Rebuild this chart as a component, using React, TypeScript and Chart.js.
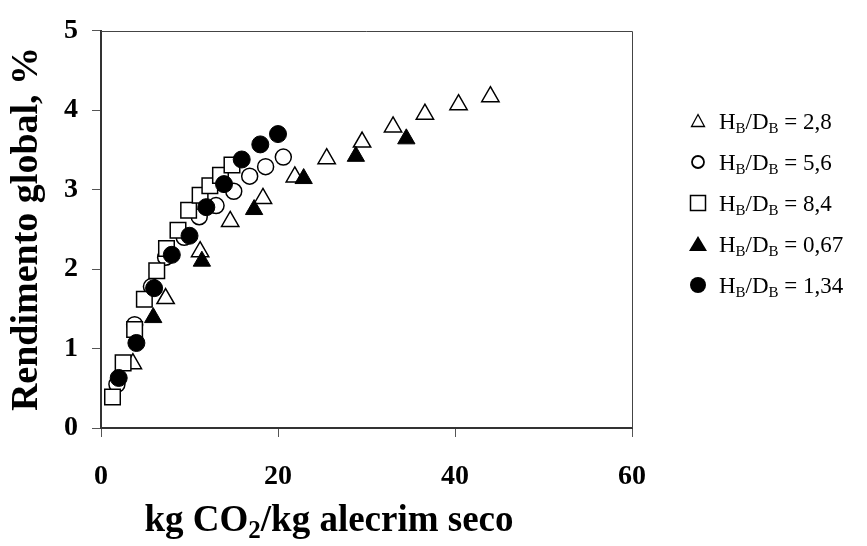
import React, { useEffect, useRef } from 'react';
import { Chart, registerables } from 'chart.js';

Chart.register(...registerables);

// ---- data ----
const X_TICKS = [0, 20, 40, 60];
const Y_TICKS = [0, 1, 2, 3, 4, 5];
const SERIES_LABELS = ['2,8', '5,6', '8,4', '0,67', '1,34'];

// H_B/D_B = 2,8 (open triangle)
const S28_X = [3.6, 7.3, 11.2, 14.6, 18.3, 21.9, 25.5, 29.5, 33.0, 36.6, 40.4, 44.0];
const S28_Y = [0.81, 1.63, 2.22, 2.6, 2.89, 3.16, 3.39, 3.6, 3.79, 3.95, 4.07, 4.17];
// H_B/D_B = 5,6 (open circle)
const S56_X = [1.8, 3.8, 5.7, 7.3, 9.4, 11.1, 13.0, 15.0, 16.8, 18.6, 20.6];
const S56_Y = [0.55, 1.3, 1.78, 2.15, 2.4, 2.66, 2.8, 2.98, 3.17, 3.29, 3.41];
// H_B/D_B = 8,4 (open square)
const S84_X = [1.3, 2.5, 3.8, 4.9, 6.3, 7.4, 8.7, 9.9, 11.2, 12.3, 13.5, 14.8];
const S84_Y = [0.39, 0.82, 1.24, 1.62, 1.98, 2.26, 2.49, 2.74, 2.93, 3.05, 3.18, 3.31];
// H_B/D_B = 0,67 (filled triangle)
const S067_X = [5.9, 11.4, 17.3, 22.9, 28.8, 34.5];
const S067_Y = [1.39, 2.1, 2.75, 3.14, 3.42, 3.64];
// H_B/D_B = 1,34 (filled circle)
const S134_X = [2.0, 4.0, 6.0, 8.0, 10.0, 11.9, 13.9, 15.9, 18.0, 20.0];
const S134_Y = [0.63, 1.07, 1.76, 2.18, 2.42, 2.78, 3.07, 3.38, 3.57, 3.7];

const FONT = '"Liberation Serif", "Times New Roman", serif';

const pts = (xs: number[], ys: number[]) => xs.map((x, i) => ({ x, y: ys[i] }));

type Run = { t: string; s: number; dy?: number };

function drawRuns(ctx: CanvasRenderingContext2D, runs: Run[], x: number, y: number, bold: boolean, align: 'left' | 'center') {
  const w = runs.map(r => {
    ctx.font = `${bold ? 'bold ' : ''}${r.s}px ${FONT}`;
    return ctx.measureText(r.t).width;
  });
  const total = w.reduce((a, b) => a + b, 0);
  let cx = align === 'center' ? x - total / 2 : x;
  ctx.textAlign = 'left';
  ctx.textBaseline = 'alphabetic';
  runs.forEach((r, i) => {
    ctx.font = `${bold ? 'bold ' : ''}${r.s}px ${FONT}`;
    ctx.fillText(r.t, cx, y + (r.dy || 0));
    cx += w[i];
  });
}

function drawMarker(ctx: CanvasRenderingContext2D, kind: string, x: number, y: number) {
  ctx.save();
  ctx.strokeStyle = '#000';
  ctx.fillStyle = '#000';
  ctx.lineWidth = 1.3;
  ctx.beginPath();
  if (kind === 'otri') {
    ctx.moveTo(x, y - 6.5); ctx.lineTo(x + 6.5, y + 5.5); ctx.lineTo(x - 6.5, y + 5.5); ctx.closePath();
    ctx.stroke();
  } else if (kind === 'ocirc') {
    ctx.arc(x, y, 6, 0, Math.PI * 2); ctx.lineWidth = 1.8; ctx.stroke();
  } else if (kind === 'osq') {
    ctx.rect(x - 7.5, y - 7.5, 15, 15); ctx.lineWidth = 1.5; ctx.stroke();
  } else if (kind === 'ftri') {
    ctx.moveTo(x, y - 8); ctx.lineTo(x + 9, y + 7); ctx.lineTo(x - 9, y + 7); ctx.closePath();
    ctx.fill();
  } else {
    ctx.arc(x, y, 8, 0, Math.PI * 2); ctx.fill();
  }
  ctx.restore();
}

const MARKER_KINDS = ['otri', 'ocirc', 'osq', 'ftri', 'fcirc'];

const decor = {
  id: 'decor',
  beforeDatasetsDraw(chart: any) {
    const { ctx, chartArea: a } = chart;
    ctx.save();
    ctx.strokeStyle = '#444';
    ctx.lineWidth = 1;
    ctx.beginPath();
    ctx.moveTo(a.left, Math.round(a.top) + 0.5);
    ctx.lineTo(Math.round(a.right) + 0.5, Math.round(a.top) + 0.5);
    ctx.lineTo(Math.round(a.right) + 0.5, a.bottom);
    ctx.stroke();
    ctx.restore();
  },
  afterDraw(chart: any) {
    const { ctx } = chart;
    ctx.save();
    ctx.fillStyle = '#000';
    // x title
    drawRuns(ctx, [
      { t: 'kg CO', s: 37 },
      { t: '2', s: 25, dy: 7 },
      { t: '/kg alecrim seco', s: 37 },
    ], 329, 531, true, 'center');
    // y title
    ctx.save();
    ctx.translate(37, 229);
    ctx.rotate(-Math.PI / 2);
    drawRuns(ctx, [{ t: 'Rendimento global, %', s: 38 }], 0, 0, true, 'center');
    ctx.restore();
    // legend
    SERIES_LABELS.forEach((lab, i) => {
      const cy = 121 + 41 * i;
      drawMarker(ctx, MARKER_KINDS[i], 698, cy);
      ctx.fillStyle = '#000';
      drawRuns(ctx, [
        { t: 'H', s: 23 },
        { t: 'B', s: 15, dy: 4 },
        { t: '/D', s: 23 },
        { t: 'B', s: 15, dy: 4 },
        { t: ' = ' + lab, s: 23 },
      ], 719, cy + 8, false, 'left');
    });
    ctx.restore();
  },
};

export default function App() {
  const ref = useRef<HTMLCanvasElement>(null);

  useEffect(() => {
    if (!ref.current) return;
    const open = { borderColor: '#000', backgroundColor: '#fff', borderWidth: 1.5 };
    const filled = { borderColor: '#000', backgroundColor: '#000', borderWidth: 1 };
    const chart = new Chart(ref.current, {
      type: 'scatter',
      data: {
        datasets: [
          { label: 'HB/DB = ' + SERIES_LABELS[0], data: pts(S28_X, S28_Y), pointStyle: 'triangle', pointRadius: 10, order: 5, ...open },
          { label: 'HB/DB = ' + SERIES_LABELS[1], data: pts(S56_X, S56_Y), pointStyle: 'circle', pointRadius: 8, order: 4, ...open },
          { label: 'HB/DB = ' + SERIES_LABELS[2], data: pts(S84_X, S84_Y), pointStyle: 'rect', pointRadius: 11, order: 3, ...open },
          { label: 'HB/DB = ' + SERIES_LABELS[3], data: pts(S067_X, S067_Y), pointStyle: 'triangle', pointRadius: 10, order: 2, ...filled },
          { label: 'HB/DB = ' + SERIES_LABELS[4], data: pts(S134_X, S134_Y), pointStyle: 'circle', pointRadius: 8.5, order: 1, ...filled },
        ] as any,
      },
      options: {
        animation: false,
        responsive: false,
        events: [],
        layout: { padding: { left: 0, right: 235, top: 18, bottom: 0 } },
        plugins: { legend: { display: false }, tooltip: { enabled: false }, title: { display: false } },
        scales: {
          x: {
            type: 'linear',
            min: X_TICKS[0],
            max: X_TICKS[X_TICKS.length - 1],
            afterBuildTicks: (s: any) => { s.ticks = X_TICKS.map(v => ({ value: v })); },
            afterFit: (s: any) => { s.height = 118; },
            ticks: { color: '#000', padding: 23, font: { family: FONT, size: 28, weight: 'bold' } },
            grid: { drawOnChartArea: false, drawTicks: true, tickLength: 9, color: '#555', lineWidth: 1 },
            border: { display: true, color: '#333', width: 2 },
          },
          y: {
            type: 'linear',
            min: Y_TICKS[0],
            max: Y_TICKS[Y_TICKS.length - 1],
            afterBuildTicks: (s: any) => { s.ticks = Y_TICKS.map(v => ({ value: v })); },
            afterFit: (s: any) => { s.width = 101; },
            ticks: { color: '#000', padding: 14, font: { family: FONT, size: 28, weight: 'bold' } },
            grid: { drawOnChartArea: false, drawTicks: true, tickLength: 9, color: '#555', lineWidth: 1 },
            border: { display: true, color: '#333', width: 2 },
          },
        },
      } as any,
      plugins: [decor],
    });
    return () => chart.destroy();
  }, []);

  return (
    <div style={{ position: 'absolute', left: 0, top: 0, width: 867, height: 546, background: '#fff' }}>
      <canvas ref={ref} width={867} height={546} style={{ display: 'block', width: 867, height: 546 }} />
    </div>
  );
}
